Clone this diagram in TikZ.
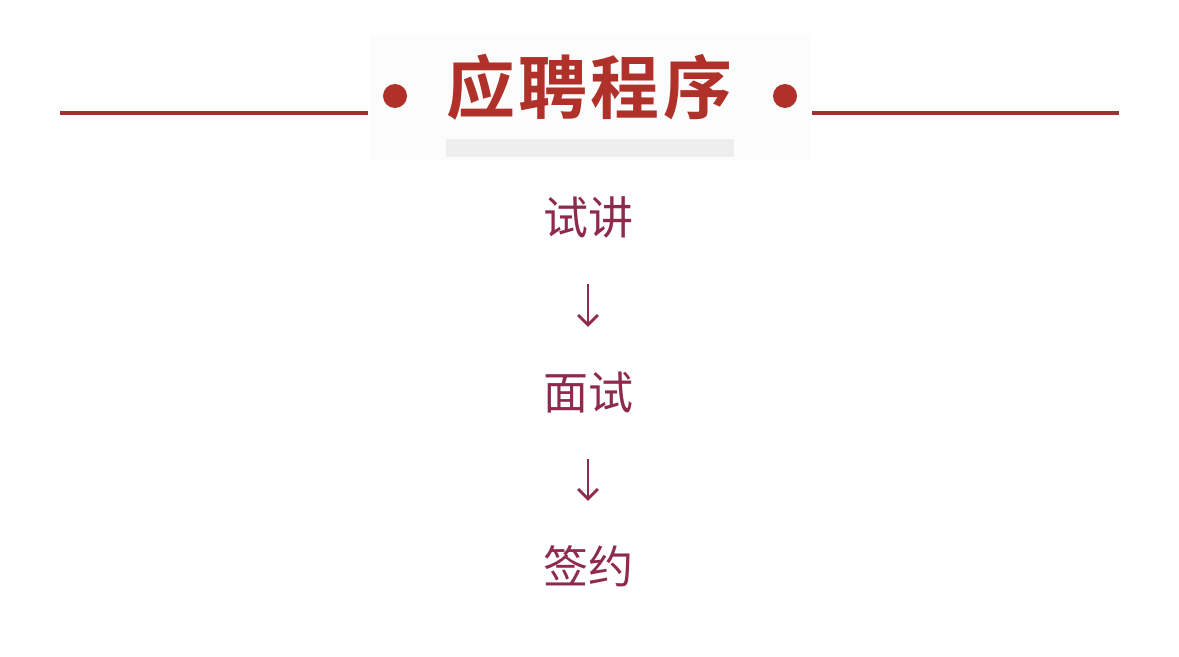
\documentclass[tikz,border=0pt]{standalone}
\usepackage{fontspec}
\usetikzlibrary{arrows.meta}
\newfontfamily\cjk{Noto Sans CJK SC}[BoldFont={Noto Sans CJK SC Bold}]

\definecolor{titlered}{HTML}{B0302A}
\definecolor{rulered}{HTML}{9E3130}
\definecolor{stepred}{HTML}{8E2A4A}
\definecolor{bargray}{HTML}{EEEEEE}

\tikzset{
  steptext/.style={text=stepred,font=\cjk\fontsize{32}{32}\selectfont,
    inner sep=0pt,text height=27pt,text depth=3pt},
  steparrow/.style={draw=stepred,line width=2pt,
    -{Straight Barb[length=7pt,width=14pt,line width=2pt]},
    shorten <=1.12cm,shorten >=1.12cm}
}

\begin{document}
\begin{tikzpicture}[x=0.025cm,y=-0.025cm]
\useasboundingbox (0,0) rectangle (1179,657);
\fill[white] (0,0) rectangle (1179,657);

% title block
\fill[black!1] (370,35) rectangle (810,160);
\fill[bargray] (446,139) rectangle (734,157);
\draw[rulered,line width=2.2pt] (60,113) -- (368,113);
\draw[rulered,line width=2.2pt] (812,113) -- (1119,113);
\fill[titlered] (395,96) circle (12);
\fill[titlered] (785,96) circle (12);
\node[text=titlered,font=\cjk\bfseries\fontsize{49}{49}\selectfont\addfontfeatures{LetterSpace=5},
  inner sep=0pt] (title) at (589,87) {应聘程序};

% steps
\node[steptext] (s1) at (588,218) {试讲};
\node[steptext] (s2) at (588,393) {面试};
\node[steptext] (s3) at (588,567) {签约};

\foreach \a/\b in {s1/s2,s2/s3}
  \draw[steparrow] (\a) -- (\b);

\end{tikzpicture}
\end{document}
